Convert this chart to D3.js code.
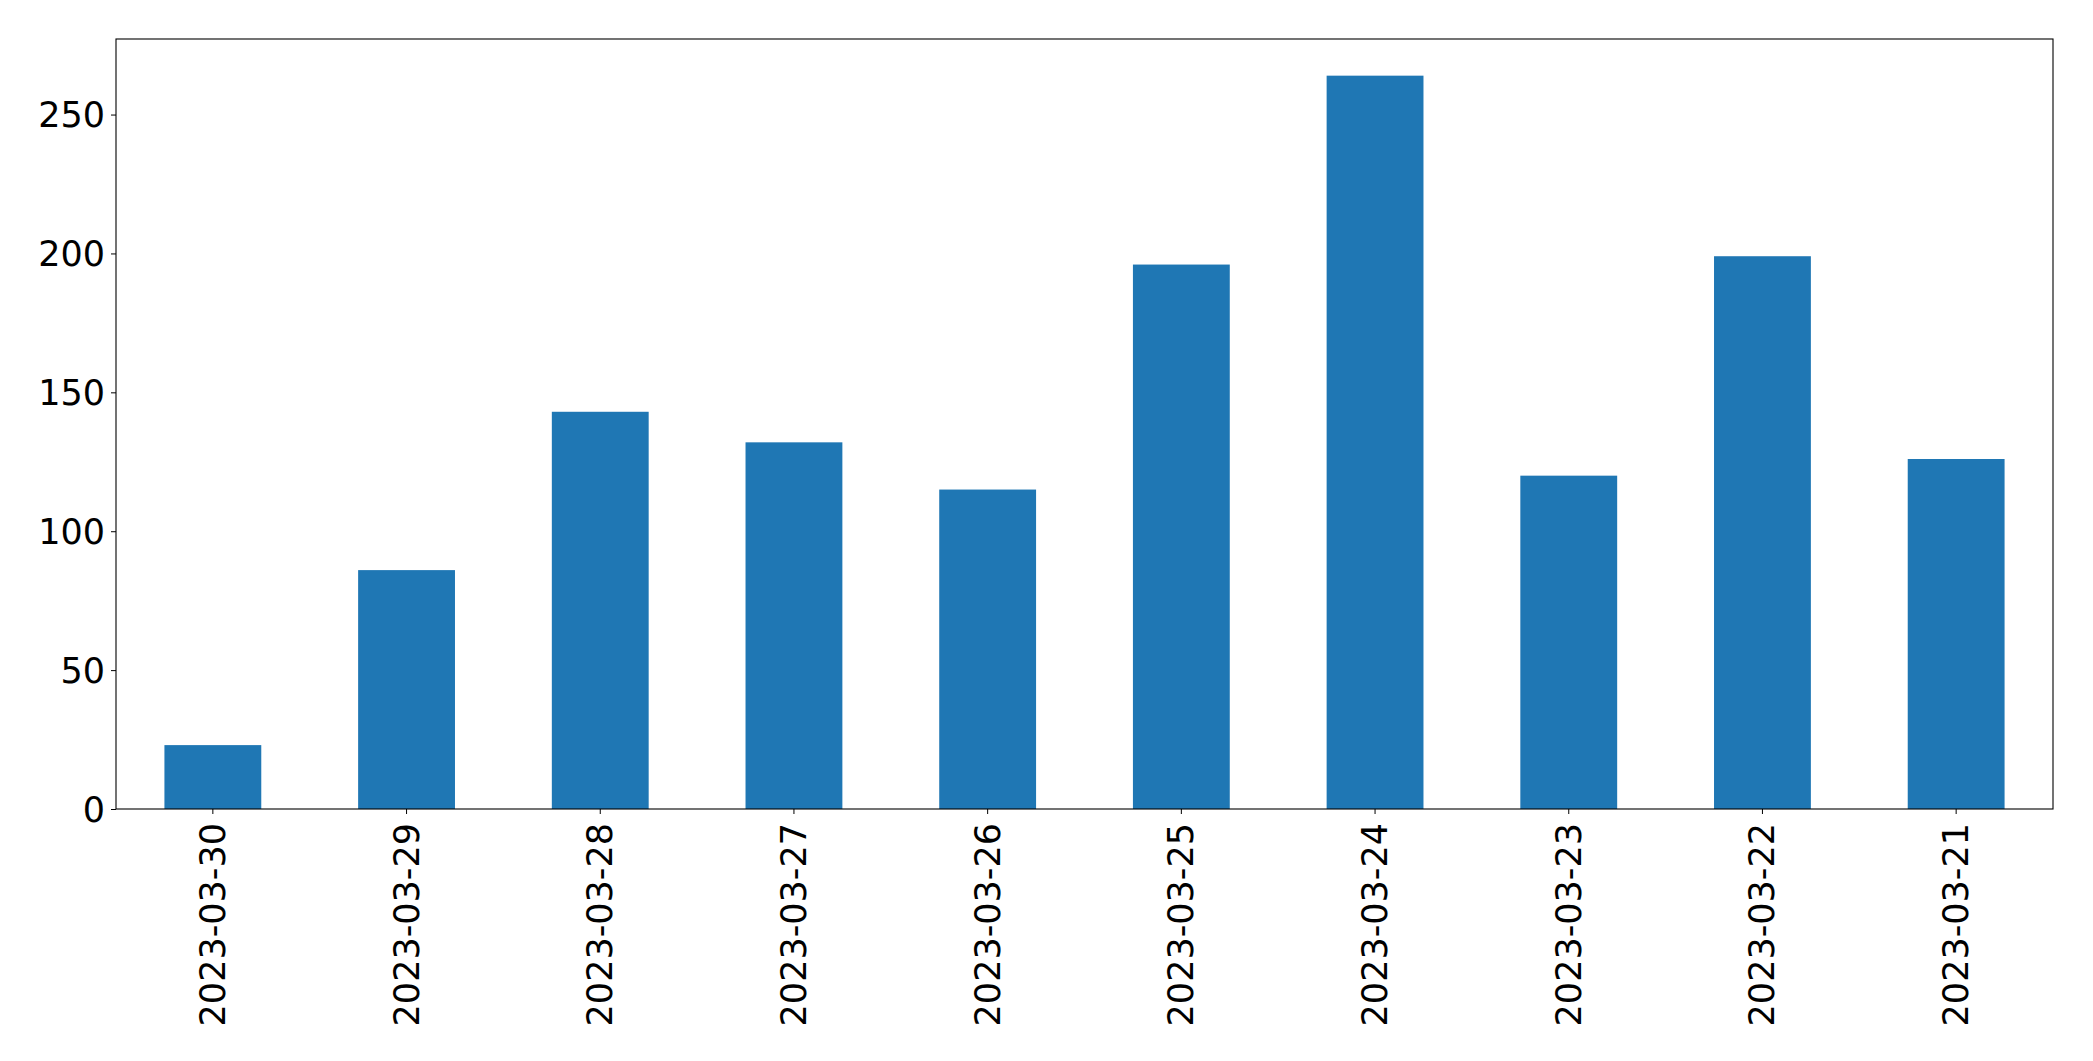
<!DOCTYPE html>
<html>
<head>
    <title>Daily Counts</title>
    <style>
        body { margin: 0; background: #fff; }
        text { font-family: "DejaVu Sans", sans-serif; fill: #000; }
    </style>
    <script src="https://d3js.org/d3.v7.min.js"></script>
</head>
<body>
    <div id="chart"></div>

    <script>
        // values
        var dates = ['2023-03-30', '2023-03-29', '2023-03-28', '2023-03-27', '2023-03-26',
                     '2023-03-25', '2023-03-24', '2023-03-23', '2023-03-22', '2023-03-21'];
        var counts = [23, 86, 143, 132, 115, 196, 264, 120, 199, 126];
        var yTicks = [0, 50, 100, 150, 200, 250];

        var totalWidth = 2093, totalHeight = 1061;
        var margin = { top: 39, right: 40, bottom: 252, left: 116 };
        var width = totalWidth - margin.left - margin.right;
        var height = totalHeight - margin.top - margin.bottom;
        var fontSize = 35;

        var svg = d3.select('#chart').append('svg')
            .attr('width', totalWidth)
            .attr('height', totalHeight);

        var g = svg.append('g')
            .attr('transform', 'translate(' + margin.left + ',' + margin.top + ')');

        var xScale = d3.scaleBand()
            .domain(dates)
            .range([0, width])
            .paddingInner(0.5)
            .paddingOuter(0.25);

        var yScale = d3.scaleLinear()
            .domain([0, d3.max(counts) * 1.05])
            .range([height, 0]);

        g.selectAll('rect.bar')
            .data(dates)
            .enter()
            .append('rect')
            .attr('class', 'bar')
            .attr('x', function(d) { return xScale(d); })
            .attr('y', function(d, i) { return yScale(counts[i]); })
            .attr('width', xScale.bandwidth())
            .attr('height', function(d, i) { return height - yScale(counts[i]); })
            .attr('fill', '#1f77b4');

        // axes
        var xAxis = g.append('g')
            .attr('transform', 'translate(0,' + height + ')')
            .call(d3.axisBottom(xScale).tickSize(5).tickPadding(0));
        xAxis.select('.domain').remove();
        xAxis.selectAll('line').attr('stroke', '#000').attr('stroke-width', 1);
        xAxis.selectAll('text')
            .attr('font-size', fontSize)
            .attr('text-anchor', 'end')
            .attr('dominant-baseline', 'central')
            .attr('dy', null)
            .attr('transform', 'translate(0,14) rotate(-90)')
            .attr('y', 0)
            .attr('x', 0);

        var yAxis = g.append('g')
            .call(d3.axisLeft(yScale).tickValues(yTicks).tickSize(5).tickPadding(6));
        yAxis.select('.domain').remove();
        yAxis.selectAll('line').attr('stroke', '#000').attr('stroke-width', 1);
        yAxis.selectAll('text')
            .attr('font-size', fontSize)
            .attr('dy', null)
            .attr('dominant-baseline', 'central');

        // frame around the plot
        g.append('rect')
            .attr('x', 0)
            .attr('y', 0)
            .attr('width', width)
            .attr('height', height)
            .attr('fill', 'none')
            .attr('stroke', '#000')
            .attr('stroke-width', 1.1);
    </script>
</body>
</html>
